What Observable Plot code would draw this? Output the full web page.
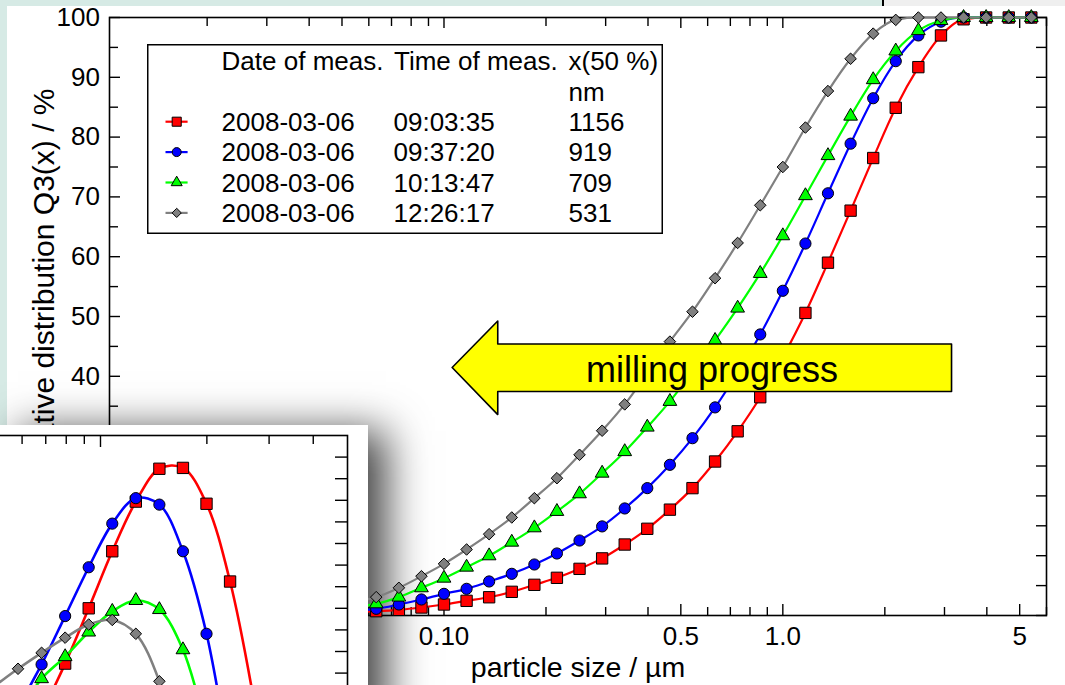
<!DOCTYPE html>
<html>
<head>
<meta charset="utf-8">
<script src="https://cdn.jsdelivr.net/npm/d3@7"></script>
<script src="https://cdn.jsdelivr.net/npm/@observablehq/plot@0.6"></script>
<style>
  html, body { margin: 0; padding: 0; background: #fff; }
  #stage { position: relative; width: 1065px; height: 685px; overflow: hidden; background: #fff;
           font-family: "Liberation Sans", Arial, sans-serif; }
  .band { position: absolute; }
  #main { position: absolute; left: 0; top: 0; z-index: 2; }
  #shadow { position: absolute; left: 0; top: 425px; width: 368px; height: 300px; background: #fff;
            box-shadow: 18px 6px 40px rgba(0,0,0,0.75); z-index: 1; }
  #legend { position: absolute; left: 147px; top: 44px; z-index: 3; }
  #inset { position: absolute; left: 0; top: 425px; width: 368px; height: 260px; overflow: hidden;
           background: #fff; z-index: 4; }
</style>
</head>
<body>
<div id="stage">
  <div class="band" style="left:0;top:0;width:882px;height:6px;background:#d6eae5"></div>
  <div class="band" style="left:882px;top:0;width:2px;height:6px;background:#000"></div>
  <div class="band" style="left:884px;top:0;width:181px;height:6px;background:#efefef"></div>
  <div class="band" style="left:0;top:0;width:7px;height:685px;background:#d6eae5"></div>
  <div id="shadow"></div>
  <div id="main"></div>
  <div id="legend"></div>
  <div id="inset"></div>
</div>
<script>
const FONT = "Liberation Sans, Arial, sans-serif";

// Upper class limits of the cumulative distribution (µm)
const sizeUm = [0.0464, 0.0541, 0.0631, 0.0736, 0.0858, 0.1, 0.1166, 0.1359, 0.1585, 0.1848,
  0.2154, 0.2512, 0.2929, 0.3415, 0.3981, 0.4642, 0.5412, 0.631, 0.7356, 0.8577,
  1.0, 1.166, 1.359, 1.585, 1.848, 2.154, 2.512, 2.929, 3.415, 3.981, 4.642, 5.412];

// Cumulative distribution Q3(x) in % for each measurement
const q3_090335 = [0.45, 0.58, 0.72, 0.95, 1.34, 1.84, 2.45, 3.05, 3.96, 5.13,
  6.3, 7.8, 9.55, 11.87, 14.5, 17.7, 21.3, 25.75, 30.8, 36.5,
  43.2, 50.6, 59.0, 67.7, 76.5, 84.9, 91.7, 97.0, 99.7, 100, 100, 100];
const q3_093720 = [0.6, 0.85, 1.12, 1.84, 2.68, 3.62, 4.46, 5.69, 6.97, 8.53,
  10.37, 12.54, 14.9, 17.9, 21.3, 25.2, 29.65, 34.8, 40.6, 47.0,
  54.3, 62.2, 70.6, 78.9, 86.5, 92.7, 97.0, 99.3, 100, 100, 100, 100];
const q3_101347 = [1.0, 1.45, 1.95, 3.07, 4.63, 6.24, 8.08, 9.98, 12.26, 14.66,
  17.4, 20.35, 23.8, 27.4, 31.5, 35.8, 40.8, 46.0, 51.4, 57.2,
  63.5, 70.2, 76.9, 83.5, 89.6, 94.4, 97.8, 99.5, 100, 100, 100, 100];
const q3_122617 = [1.6, 2.3, 3.07, 4.63, 6.57, 8.64, 11.04, 13.6, 16.39, 19.62,
  22.96, 26.87, 30.9, 35.3, 40.5, 45.8, 50.8, 56.4, 62.3, 68.6,
  75.0, 81.6, 87.7, 93.1, 97.3, 99.6, 100, 100, 100, 100, 100, 100];

// Class midpoints (µm) and density distribution q3*(lg x) for the inset
const insetSizeUm = [0.4299, 0.5012, 0.5843, 0.6813, 0.7943, 0.9261, 1.0798, 1.2589,
  1.4678, 1.7113, 1.9953, 2.3263, 2.7123, 3.1623];
const dens_090335 = [0.48, 0.54, 0.67, 0.76, 0.872, 1.0, 1.132, 1.247, 1.323, 1.325, 1.242, 1.062, 0.79, 0.44];
const dens_093720 = [0.57, 0.67, 0.77, 0.87, 0.982, 1.095, 1.196, 1.255, 1.24, 1.132, 0.941, 0.645, 0.345, 0.1];
const dens_101347 = [0.65, 0.72, 0.76, 0.837, 0.888, 0.945, 0.993, 1.018, 0.997, 0.904, 0.72, 0.51, 0.25, 0.075];
const dens_122617 = [0.78, 0.82, 0.86, 0.897, 0.932, 0.9625, 0.973, 0.941, 0.831, 0.63, 0.34, 0.06, 0, 0];

// Legend table
const measDate = ["2008-03-06", "2008-03-06", "2008-03-06", "2008-03-06"];
const measTime = ["09:03:35", "09:37:20", "10:13:47", "12:26:17"];
const x50nm = [1156, 919, 709, 531];

// Axis ticks and labels
const yMajor = [0, 10, 20, 30, 40, 50, 60, 70, 80, 90, 100];
const yMinor = [5, 15, 25, 35, 45, 55, 65, 75, 85, 95];
const xLabelTicks = [0.1, 0.5, 1, 5];
const xLabelText = ["0.10", "0.5", "1.0", "5"];
const xMinorTicks = [0.02, 0.03, 0.04, 0.05, 0.06, 0.07, 0.08, 0.09,
  0.2, 0.3, 0.4, 0.6, 0.7, 0.8, 0.9, 2, 3, 4, 6];
const insetXMinor = [0.2, 0.3, 0.4, 0.5, 0.6, 0.7, 0.8, 0.9, 2, 3, 4];
const insetYTicks = d3.range(1, 28).map(i => +(i * 0.05).toFixed(2));

// Milling-progress arrow outline in (size µm, Q3 %) units
const arrowOutline = [
  [0.1057, 41.47], [0.1441, 49.25], [0.1441, 45.4], [3.147, 45.4],
  [3.147, 37.46], [0.1441, 37.46], [0.1441, 33.6]
];

// Series appearance
const seriesColor = ["#ff0000", "#0000ff", "#00ff00", "#808080"];
const seriesSymbol = ["square", "circle", "triangle", "diamond2"];
const seriesR = [6.4, 5.6, 5.1, 5.2];

const q3Series = [q3_090335, q3_093720, q3_101347, q3_122617];
const densSeries = [dens_090335, dens_093720, dens_101347, dens_122617];

const noText = () => "";

// ---- main chart: cumulative distribution ----
const mainMarks = [
  Plot.axisY({anchor: "left", ticks: yMajor, tickSize: -11, tickFormat: noText, label: null, strokeWidth: 1.4}),
  Plot.axisY({anchor: "left", ticks: yMinor, tickSize: -9, tickFormat: noText, label: null, strokeWidth: 1.4}),
  Plot.axisY({anchor: "right", ticks: yMajor.concat(yMinor), tickSize: -11, tickFormat: noText, label: null, strokeWidth: 1.4}),
  Plot.axisY({anchor: "left", ticks: yMajor, tickSize: 0, tickPadding: 9.5, fontSize: 26, label: null}),
  Plot.axisX({anchor: "bottom", ticks: xMinorTicks, tickSize: -8, tickFormat: noText, label: null, strokeWidth: 1.4}),
  Plot.axisX({anchor: "bottom", ticks: xLabelTicks, tickSize: -11, tickFormat: noText, label: null, strokeWidth: 1.4}),
  Plot.axisX({anchor: "top", ticks: xMinorTicks, tickSize: -8, tickFormat: noText, label: null, strokeWidth: 1.4}),
  Plot.axisX({anchor: "top", ticks: xLabelTicks, tickSize: -10, tickFormat: noText, label: null, strokeWidth: 1.4}),
  // x tick labels under the labelled ticks
  Plot.text(xLabelTicks, {x: d => d, frameAnchor: "bottom", lineAnchor: "top", dy: 11.5,
    text: (d, i) => xLabelText[i], fontSize: 26, fill: "#000"}),
  Plot.frame({stroke: "#000", strokeWidth: 1.6})
];

q3Series.forEach((vals, s) => {
  const rows = sizeUm.map((x, i) => ({size: x, q3: vals[i]}));
  mainMarks.push(Plot.line(rows, {x: "size", y: "q3", stroke: seriesColor[s], strokeWidth: 2.2, curve: "monotone-x"}));
  mainMarks.push(Plot.dot(rows, {x: "size", y: "q3", symbol: seriesSymbol[s], r: seriesR[s],
    fill: seriesColor[s], stroke: "#000", strokeWidth: 1}));
});

mainMarks.push(
  Plot.line(arrowOutline, {x: d => d[0], y: d => d[1], curve: "linear-closed",
    fill: "#ffff00", stroke: "#000", strokeWidth: 1.6}),
  Plot.text(["milling progress"], {x: () => 0.618, y: () => 40.9, text: d => d, fontSize: 36, fill: "#000"}),
  Plot.text(["cumulative distribution Q3(x) / %"], {frameAnchor: "top-left", dx: -77, dy: 71, rotate: -90,
    textAnchor: "end", text: d => d, fontSize: 30, fill: "#000"}),
  Plot.text(["particle size / µm"], {frameAnchor: "bottom", dy: 61, text: d => d, fontSize: 28.5, fill: "#000"})
);

const mainPlot = Plot.plot({
  width: 1065, height: 685,
  marginLeft: 109, marginRight: 19, marginTop: 17, marginBottom: 70,
  x: {type: "log", domain: [0.0103, 6]},
  y: {domain: [0, 100]},
  style: {background: "transparent", fontFamily: FONT, color: "#000", overflow: "visible", maxWidth: "none"},
  marks: mainMarks
});
document.getElementById("main").appendChild(mainPlot);

// ---- legend ----
const leg = d3.create("svg").attr("width", 516).attr("height", 190)
  .style("font-family", FONT).style("font-size", "26px");
leg.append("rect").attr("x", 0.75).attr("y", 0.75).attr("width", 514.5).attr("height", 188.5)
  .attr("fill", "#fff").attr("stroke", "#000").attr("stroke-width", 1.5);
leg.append("text").attr("x", 74.6).attr("y", 26).text("Date of meas.");
leg.append("text").attr("x", 247).attr("y", 26).text("Time of meas.");
leg.append("text").attr("x", 421.5).attr("y", 26).text("x(50 %)");
leg.append("text").attr("x", 421.5).attr("y", 57).text("nm");
const d3Symbols = {square: d3.symbolSquare, circle: d3.symbolCircle, triangle: d3.symbolTriangle, diamond2: d3.symbolDiamond2};
measTime.forEach((t, i) => {
  const base = 87 + i * 30.4;
  const cy = base - 9.3;
  leg.append("line").attr("x1", 18.5).attr("x2", 40.6).attr("y1", cy).attr("y2", cy)
    .attr("stroke", seriesColor[i]).attr("stroke-width", 2.2);
  const r = seriesR[i] * 0.8;
  leg.append("path").attr("transform", `translate(29.7,${cy})`)
    .attr("d", d3.symbol(d3Symbols[seriesSymbol[i]], r * r * Math.PI)())
    .attr("fill", seriesColor[i]).attr("stroke", "#000").attr("stroke-width", 1);
  leg.append("text").attr("x", 74.6).attr("y", base).text(measDate[i]);
  leg.append("text").attr("x", 246.5).attr("y", base).text(t);
  leg.append("text").attr("x", 421.5).attr("y", base).text(x50nm[i]);
});
document.getElementById("legend").appendChild(leg.node());

// ---- inset: density distribution (enlarged section) ----
const insetMarks = [
  Plot.frame({stroke: "#000", strokeWidth: 1.6}),
  Plot.axisX({anchor: "top", ticks: insetXMinor, tickSize: -8, tickFormat: noText, label: null, strokeWidth: 1.4}),
  Plot.axisX({anchor: "top", ticks: [0.1, 1], tickSize: -11, tickFormat: noText, label: null, strokeWidth: 1.4}),
  Plot.axisY({anchor: "right", ticks: insetYTicks, tickSize: -13, tickFormat: noText, label: null, strokeWidth: 1.4})
];
densSeries.forEach((vals, s) => {
  const rows = insetSizeUm.map((x, i) => ({size: x, q3: vals[i]}));
  insetMarks.push(Plot.line(rows, {x: "size", y: "q3", stroke: seriesColor[s], strokeWidth: 2.6, curve: "catmull-rom"}));
  insetMarks.push(Plot.dot(rows, {x: "size", y: "q3", symbol: seriesSymbol[s], r: seriesR[s],
    fill: seriesColor[s], stroke: "#000", strokeWidth: 1}));
});
const insetPlot = Plot.plot({
  width: 605, height: 609,
  marginLeft: 2.6, marginRight: 2, marginTop: 2, marginBottom: 2.2,
  x: {type: "log", domain: [0.1, 5]},
  y: {domain: [0, 1.4]},
  style: {background: "transparent", fontFamily: FONT, color: "#000", overflow: "visible",
          maxWidth: "none", position: "absolute", left: "-256px", top: "8px"},
  marks: insetMarks
});
document.getElementById("inset").appendChild(insetPlot);
</script>
</body>
</html>
